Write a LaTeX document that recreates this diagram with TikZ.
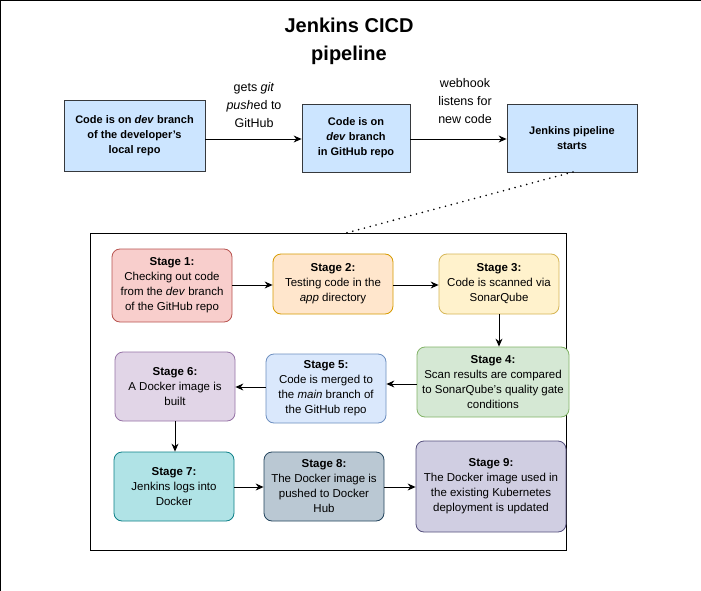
\documentclass[tikz,border=0pt]{standalone}
\usepackage{fontspec}
\setmainfont{Liberation Sans}
\usetikzlibrary{arrows.meta}
\definecolor{topfill}{HTML}{CCE5FF}
\definecolor{topline}{HTML}{36393D}
\definecolor{f1}{HTML}{F8CECC}\definecolor{d1}{HTML}{B85450}
\definecolor{f2}{HTML}{FFE6CC}\definecolor{d2}{HTML}{D79B00}
\definecolor{f3}{HTML}{FFF2CC}\definecolor{d3}{HTML}{D6B656}
\definecolor{f4}{HTML}{D5E8D4}\definecolor{d4}{HTML}{82B366}
\definecolor{f5}{HTML}{DAE8FC}\definecolor{d5}{HTML}{6C8EBF}
\definecolor{f6}{HTML}{E1D5E7}\definecolor{d6}{HTML}{9673A6}
\definecolor{f7}{HTML}{B0E3E6}\definecolor{d7}{HTML}{0E8088}
\definecolor{f8}{HTML}{BAC8D3}\definecolor{d8}{HTML}{23445D}
\definecolor{f9}{HTML}{D0CEE2}\definecolor{d9}{HTML}{56517E}
\begin{document}
\begin{tikzpicture}[x=1pt,y=-1pt,
  topbox/.style={draw=topline,fill=topfill,line width=0.8pt,align=center,inner sep=0pt,
    font=\fontsize{11}{15}\selectfont\bfseries},
  stagebox/.style={rounded corners=8pt,line width=0.8pt,align=center,inner sep=0pt,
    font=\fontsize{11.5}{15}\selectfont},
  lbl/.style={align=center,font=\fontsize{12.5}{18}\selectfont},
  arr/.style={-{Stealth[length=8pt,width=7pt]},line width=0.9pt},
]
\useasboundingbox (0,0) rectangle (701,591);
\fill[white] (0,0) rectangle (701,591);
\draw[line width=1pt] (0.5,591) -- (0.5,0.5) -- (701,0.5);

\node[font=\fontsize{20}{28}\selectfont\bfseries,align=center] (title) at (349,41) {Jenkins CICD\\pipeline};

\node[topbox,minimum width=141pt,minimum height=71pt] (A) at (134.5,135.5)
  {Code is on \textit{dev} branch\\of the developer's\\local repo};
\node[topbox,minimum width=108pt,minimum height=68pt] (B) at (356,138)
  {Code is on\\\textit{dev} branch\\in GitHub repo};
\node[topbox,minimum width=130pt,minimum height=68pt] (C) at (572,138)
  {Jenkins pipeline\\starts};

\draw[arr] (A.east |- 0,139) -- (B.west |- 0,139);
\draw[arr] (B.east |- 0,139) -- (C.west |- 0,139);
\node[lbl] (l1) at (254,105) {gets \textit{git}\\\textit{push}ed to\\GitHub};
\node[lbl] (l2) at (465,101) {webhook\\listens for\\new code};

\node[draw,line width=1pt,minimum width=476pt,minimum height=317pt,inner sep=0pt] (frame) at (328,391.5) {};
\coordinate (fc) at (346,233);
\coordinate (cs) at (573,172);
\draw[line width=1.8pt,line cap=round,dash pattern=on 0pt off 6pt] (cs) -- (fc);

\node[stagebox,draw=d1,fill=f1,minimum width=120pt,minimum height=73pt] (s1) at (172,285.5)
  {\textbf{Stage 1:}\\Checking out code\\from the \textit{dev} branch\\of the GitHub repo};
\node[stagebox,draw=d2,fill=f2,minimum width=120pt,minimum height=60pt] (s2) at (333,284)
  {\textbf{Stage 2:}\\Testing code in the\\\textit{app} directory};
\node[stagebox,draw=d3,fill=f3,minimum width=120pt,minimum height=60pt] (s3) at (499,284)
  {\textbf{Stage 3:}\\Code is scanned via\\SonarQube};
\node[stagebox,draw=d4,fill=f4,minimum width=152pt,minimum height=70pt] (s4) at (493,382)
  {\textbf{Stage 4:}\\Scan results are compared\\to SonarQube's quality gate\\conditions};
\node[stagebox,draw=d5,fill=f5,minimum width=120pt,minimum height=69pt] (s5) at (326,388.5)
  {\textbf{Stage 5:}\\Code is merged to\\the \textit{main} branch of\\the GitHub repo};
\node[stagebox,draw=d6,fill=f6,minimum width=120pt,minimum height=69pt] (s6) at (175,386.5)
  {\textbf{Stage 6:}\\A Docker image is\\built};
\node[stagebox,draw=d7,fill=f7,minimum width=120pt,minimum height=69pt] (s7) at (174,486.5)
  {\textbf{Stage 7:}\\Jenkins logs into\\Docker};
\node[stagebox,draw=d8,fill=f8,minimum width=120pt,minimum height=69pt] (s8) at (324,486.5)
  {\textbf{Stage 8:}\\The Docker image is\\pushed to Docker\\Hub};
\node[stagebox,draw=d9,fill=f9,minimum width=150pt,minimum height=91pt] (s9) at (491,486.5)
  {\textbf{Stage 9:}\\The Docker image used in\\the existing Kubernetes\\deployment is updated};

\draw[arr] (s1.east |- 0,285) -- (s2.west |- 0,285);
\draw[arr] (s2.east |- 0,285) -- (s3.west |- 0,285);
\draw[arr] (s3.south) -- (s4.north -| s3.south);
\draw[arr] (s4.west |- 0,384) -- (s5.east |- 0,384);
\draw[arr] (s5.west |- 0,387) -- (s6.east |- 0,387);
\draw[arr] (s6.south) -- (s7.north -| s6.south);
\draw[arr] (s7.east |- 0,487) -- (s8.west |- 0,487);
\draw[arr] (s8.east |- 0,487) -- (s9.west |- 0,487);
\end{tikzpicture}
\end{document}
